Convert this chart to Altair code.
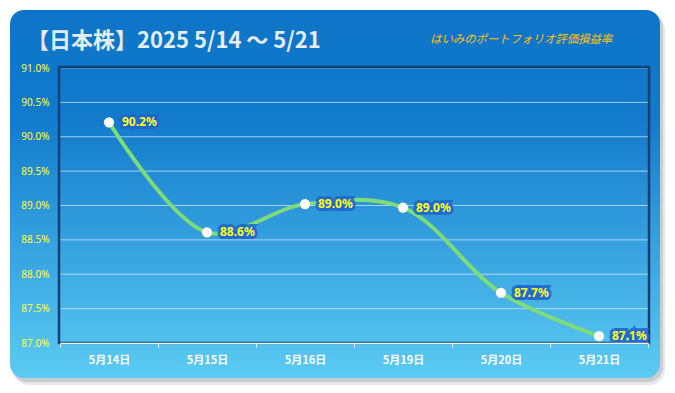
import altair as alt
import pandas as pd

dates = ["5月14日", "5月15日", "5月16日", "5月19日", "5月20日", "5月21日"]
values = [90.21, 88.61, 89.02, 88.97, 87.73, 87.10]
y_ticks = [87.0, 87.5, 88.0, 88.5, 89.0, 89.5, 90.0, 90.5, 91.0]
title_text = "【日本株】2025 5/14 〜 5/21"
subtitle_text = "はいみのポートフォリオ評価損益率"

W, H = 588, 275

df = pd.DataFrame({"date": dates, "value": values})
df["label"] = [f"{v:.1f}%" for v in values]
grid_df = pd.DataFrame({"value": y_ticks[1:]})
one = pd.DataFrame({"a": [0]})

xscale = alt.Scale(type="band", paddingInner=0, paddingOuter=0)
yscale = alt.Scale(domain=[87, 91], nice=False, zero=False)

x_axis = alt.Axis(tickBand="extent", labelAngle=0, labelColor="white",
                  labelFont="Noto Sans CJK JP", labelFontWeight="bold",
                  labelFontSize=11, labelPadding=7, tickColor="#e8f4fc",
                  tickSize=4, domainColor="#e8f4fc", domainWidth=1.5,
                  grid=False, zindex=1)
y_axis = alt.Axis(values=y_ticks, labelExpr="format(datum.value, '.1f') + '%'",
                  labelColor="#ffff33", labelFont="Noto Sans", labelFontSize=10,
                  labelOverlap=False, labelBound=False, labelFlush=False,
                  labelPadding=11, tickSize=0, domain=False, grid=False, zindex=1)
x_enc = alt.X("date:N", sort=dates, scale=xscale, title=None, axis=x_axis)
y_enc = alt.Y("value:Q", scale=yscale, title=None, axis=y_axis)

shadow1 = alt.Chart(one).mark_rect(cornerRadius=16, fill="#b8bcc0", opacity=0.35).encode(
    x=alt.value(-47), x2=alt.value(605), y=alt.value(-54), y2=alt.value(317))
shadow2 = alt.Chart(one).mark_rect(cornerRadius=15, fill="#a8acb0", opacity=0.45).encode(
    x=alt.value(-48), x2=alt.value(603), y=alt.value(-56), y2=alt.value(314))

bg = alt.Chart(one).mark_rect(
    cornerRadius=14,
    fill=alt.Gradient(gradient="linear", x1=0, x2=0, y1=0, y2=1,
                      stops=[alt.GradientStop(offset=0, color="#0d74c7"),
                             alt.GradientStop(offset=0.3, color="#137bcc"),
                             alt.GradientStop(offset=1, color="#5ccbf3")]),
).encode(x=alt.value(-50), x2=alt.value(600), y=alt.value(-58), y2=alt.value(310))

border = alt.Chart(one).mark_rect(fill=None, stroke="#0c4274", strokeWidth=2.5).encode(
    x=alt.value(-1), x2=alt.value(W + 1), y=alt.value(-1), y2=alt.value(H))

grid = alt.Chart(grid_df).mark_rule(color="#d8ecfa", strokeWidth=1, opacity=0.7).encode(
    y=y_enc, x=alt.value(0), x2=alt.value(W))

base = alt.Chart(df)
line = base.mark_line(color="#7ddc78", strokeWidth=4, interpolate="catmull-rom").encode(
    x=x_enc, y=y_enc)
pts = base.mark_point(filled=True, color="white", opacity=1, size=105).encode(
    x=x_enc, y=y_enc)
lab_glow = base.mark_text(align="left", baseline="middle", dx=13, font="Noto Sans",
                          fontWeight="bold", fontSize=12, color="#1f66cc",
                          stroke="#1f66cc", strokeWidth=6, strokeOpacity=0.9).encode(
    x=x_enc, y=y_enc, text="label:N")
lab = base.mark_text(align="left", baseline="middle", dx=13, font="Noto Sans",
                     fontWeight="bold", fontSize=12, color="#ffff1a").encode(
    x=x_enc, y=y_enc, text="label:N")

title = alt.Chart(one).mark_text(
    text=title_text, align="left", baseline="middle", font="Noto Sans CJK JP",
    fontWeight="bold", fontSize=22, color="#e4edf6").encode(
    x=alt.value(-33), y=alt.value(-27))
subtitle = alt.Chart(one).mark_text(
    text=subtitle_text, align="left", baseline="middle", font="Noto Sans CJK JP",
    fontStyle="italic", fontSize=11.4, color="#ffc20e").encode(
    x=alt.value(370), y=alt.value(-28))

chart = alt.layer(shadow1, shadow2, bg, grid, border, line, pts, lab_glow, lab,
                  title, subtitle).properties(
    width=W, height=H,
    autosize=alt.AutoSizeParams(type="none"),
    padding={"left": 52, "top": 60, "right": 19, "bottom": 42},
).configure_view(stroke=None).configure(background="white")

chart.save("out.html", embed_options={"renderer": "svg", "actions": False})
